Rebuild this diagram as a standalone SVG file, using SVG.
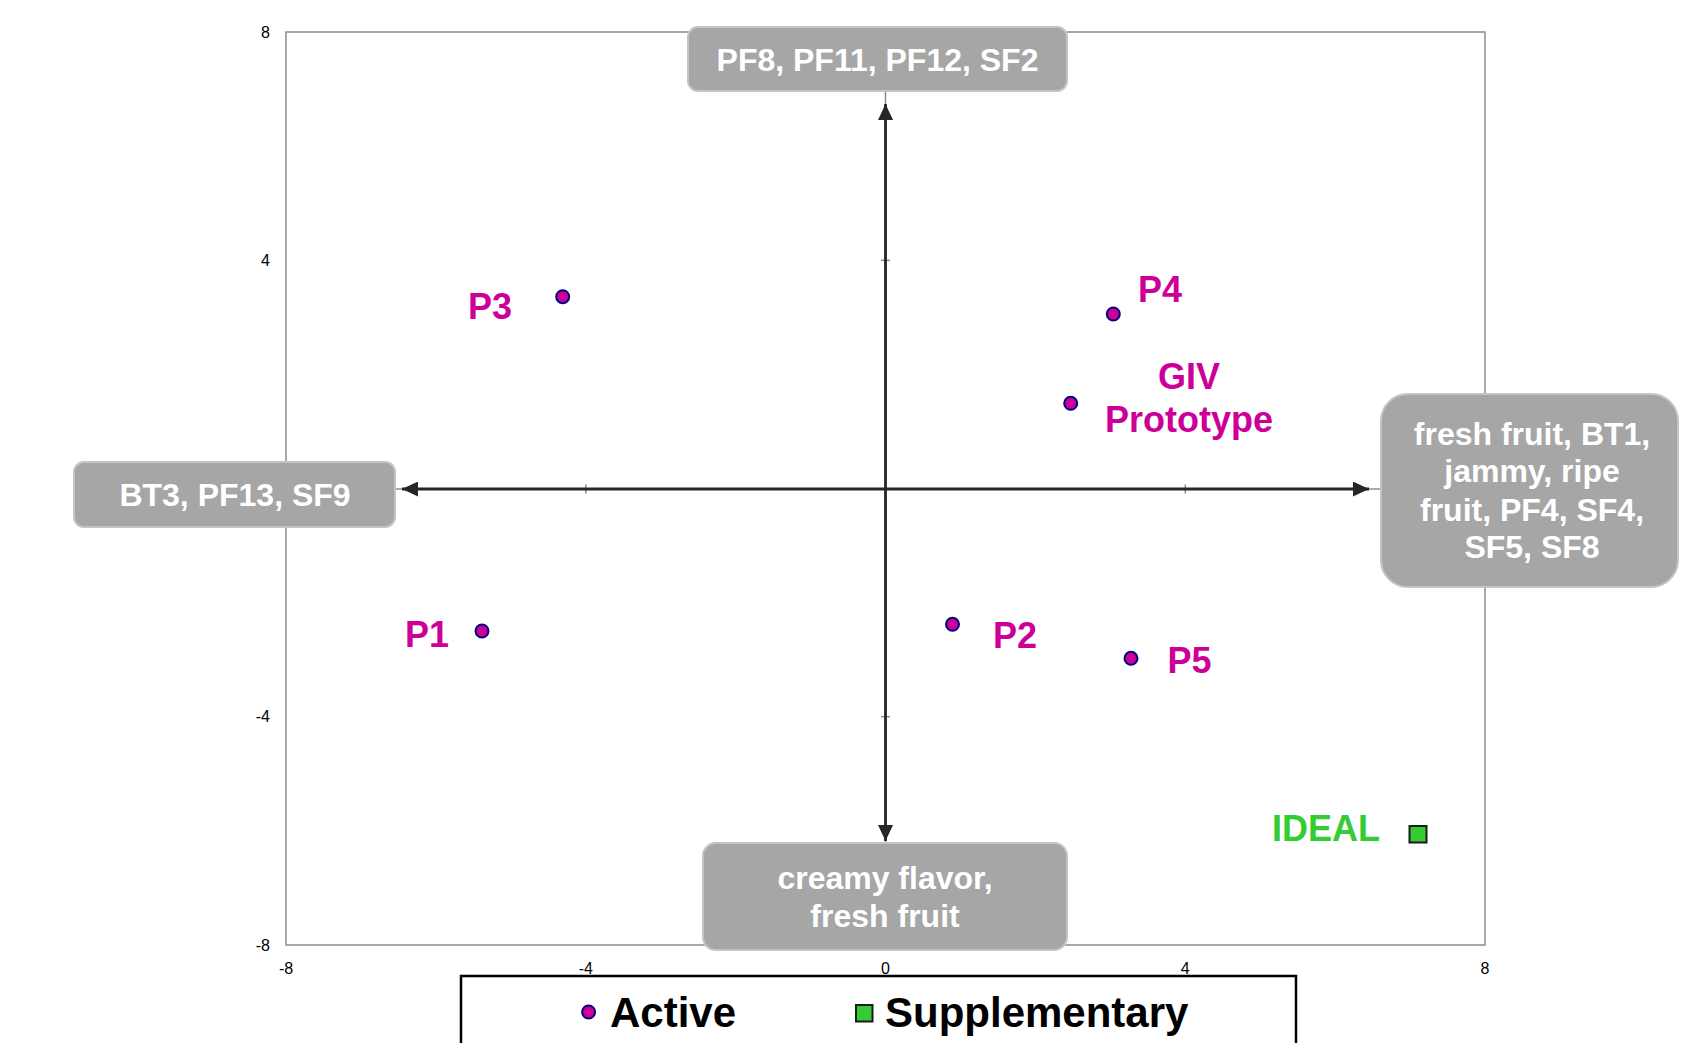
<svg xmlns="http://www.w3.org/2000/svg" width="1681" height="1043" viewBox="0 0 1681 1043">
<style>
.tick{font-family:"Liberation Sans",Arial,sans-serif;font-size:16px;fill:#000}
.box{fill:#a6a6a6;stroke:#c4c4c4;stroke-width:2}
.btxt{font-family:"Liberation Sans",Arial,sans-serif;font-size:32px;font-weight:bold;fill:#fff;text-anchor:middle}
.lbl{font-family:"Liberation Sans",Arial,sans-serif;font-size:36px;font-weight:bold;fill:#cc0099}
.pt{fill:#cc0099;stroke:#000080;stroke-width:2}
.grid{stroke:#8c8c8c;stroke-width:1.5;fill:none}
.arrow{stroke:#262626;stroke-width:2.8;fill:none}
.leg{font-family:"Liberation Sans",Arial,sans-serif;font-size:42px;font-weight:bold;fill:#000}
</style>
<defs>
<marker id="ah" markerUnits="userSpaceOnUse" markerWidth="17" markerHeight="15" refX="16" refY="7.5" orient="auto-start-reverse" viewBox="0 0 17 15">
<path d="M0,0 L16,7.5 L0,15 z" fill="#262626"/>
</marker>
</defs>
<rect width="1681" height="1043" fill="#fff"/>
<g id="plot">
<rect class="grid" x="286" y="32" width="1199" height="913" stroke-width="2"/>
<line class="grid" x1="885.5" y1="32" x2="885.5" y2="945"/>
<line class="grid" x1="286" y1="489" x2="1485" y2="489"/>
<line class="grid" x1="881" y1="260.3" x2="890" y2="260.3"/>
<line class="grid" x1="881" y1="716.7" x2="890" y2="716.7"/>
<line class="grid" x1="585.8" y1="484.5" x2="585.8" y2="493.5"/>
<line class="grid" x1="1185.3" y1="484.5" x2="1185.3" y2="493.5"/>
</g>
<g id="ticks">
<text class="tick" x="270" y="38" text-anchor="end">8</text>
<text class="tick" x="270" y="266" text-anchor="end">4</text>
<text class="tick" x="270" y="722" text-anchor="end">-4</text>
<text class="tick" x="270" y="951" text-anchor="end">-8</text>
<text class="tick" x="286" y="974" text-anchor="middle">-8</text>
<text class="tick" x="585.8" y="974" text-anchor="middle">-4</text>
<text class="tick" x="885.5" y="974" text-anchor="middle">0</text>
<text class="tick" x="1185.3" y="974" text-anchor="middle">4</text>
<text class="tick" x="1485" y="974" text-anchor="middle">8</text>
</g>
<g id="connectors">
<line class="arrow" x1="885.5" y1="104" x2="885.5" y2="841" marker-start="url(#ah)" marker-end="url(#ah)"/>
<line class="arrow" x1="402" y1="489" x2="1369" y2="489" marker-start="url(#ah)" marker-end="url(#ah)"/>
</g>
<g id="box-top">
<rect class="box" x="688" y="27" width="379" height="64" rx="10"/>
<text class="btxt" x="877.5" y="71">PF8, PF11, PF12, SF2</text>
</g>
<g id="box-left">
<rect class="box" x="74" y="462" width="321" height="65" rx="10"/>
<text class="btxt" x="235" y="506">BT3, PF13, SF9</text>
</g>
<g id="box-right">
<rect class="box" x="1381" y="394" width="297" height="193" rx="27"/>
<text class="btxt" x="1532" y="445">fresh fruit, BT1,</text>
<text class="btxt" x="1532" y="482">jammy, ripe</text>
<text class="btxt" x="1532" y="521">fruit, PF4, SF4,</text>
<text class="btxt" x="1532" y="558">SF5, SF8</text>
</g>
<g id="box-bottom">
<rect class="box" x="703" y="843" width="364" height="107" rx="13"/>
<text class="btxt" x="885" y="889">creamy flavor,</text>
<text class="btxt" x="885" y="927">fresh fruit</text>
</g>
<g id="P3">
<circle class="pt" cx="562.7" cy="296.7" r="6.5"/>
<text class="lbl" x="468" y="319">P3</text>
</g>
<g id="P4">
<circle class="pt" cx="1113.3" cy="314" r="6.5"/>
<text class="lbl" x="1138" y="302">P4</text>
</g>
<g id="GIV">
<circle class="pt" cx="1070.7" cy="403.3" r="6.5"/>
<text class="lbl" x="1189" y="389" text-anchor="middle">GIV</text>
<text class="lbl" x="1189" y="431.5" text-anchor="middle">Prototype</text>
</g>
<g id="P1">
<circle class="pt" cx="482" cy="631" r="6.5"/>
<text class="lbl" x="405" y="647">P1</text>
</g>
<g id="P2">
<circle class="pt" cx="952.5" cy="624.3" r="6.5"/>
<text class="lbl" x="993" y="648">P2</text>
</g>
<g id="P5">
<circle class="pt" cx="1131" cy="658.3" r="6.5"/>
<text class="lbl" x="1167.5" y="673">P5</text>
</g>
<g id="IDEAL">
<rect x="1409.5" y="826" width="17" height="16.5" fill="#33cc33" stroke="#1a1a1a" stroke-width="2"/>
<text class="lbl" x="1272" y="841" fill="#33cc33" style="fill:#33cc33">IDEAL</text>
</g>
<g id="legend">
<rect x="461" y="976" width="835" height="80" fill="#fff" stroke="#000" stroke-width="2.5"/>
<circle class="pt" cx="588.6" cy="1012" r="6.5"/>
<text class="leg" x="610" y="1027">Active</text>
<rect x="856" y="1005" width="16.5" height="16.5" fill="#33cc33" stroke="#1a1a1a" stroke-width="2"/>
<text class="leg" x="885" y="1027">Supplementary</text>
</g>
</svg>
